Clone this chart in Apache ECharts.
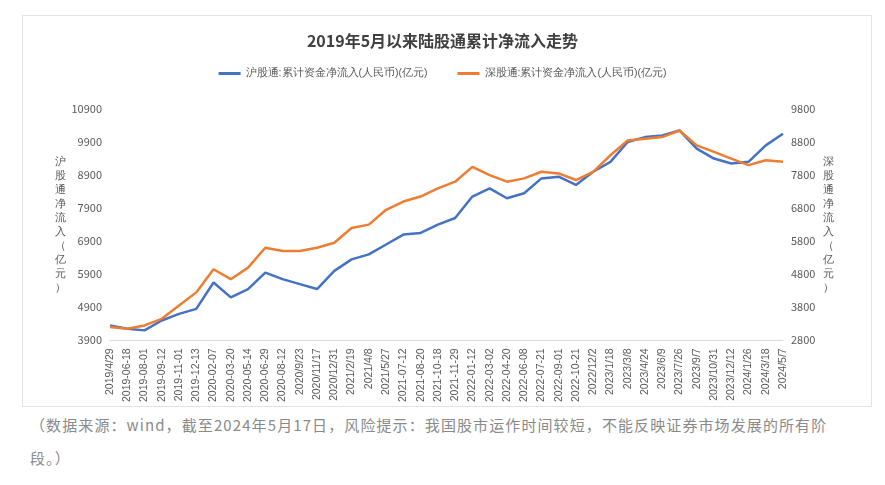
<!DOCTYPE html>
<html><head><meta charset="utf-8">
<script src="https://cdn.jsdelivr.net/npm/echarts@6/dist/echarts.min.js"></script>
<style>
body{margin:0;background:#fff;font-family:"Noto Sans CJK SC",sans-serif;}
#box{position:absolute;left:22px;top:15px;width:848px;height:390px;border:1px solid #e3e3e3;}
#c{position:absolute;left:0;top:0;width:885px;height:405px;}
#note{position:absolute;left:30px;top:408px;width:830px;font-size:15px;letter-spacing:1.1px;line-height:33px;color:#8a8a8a;}
</style></head><body>
<div id="box"></div>
<div id="c"></div>
<div id="note">（数据来源：wind，截至2024年5月17日，风险提示：我国股市运作时间较短，不能反映证券市场发展的所有阶段。）</div>
<script>
const dates=["2019/4/29","2019-06-18","2019-08-01","2019-09-12","2019-11-01","2019-12-13","2020-02-07","2020-03-20","2020-05-14","2020-06-29","2020-08-12","2020/9/23","2020/11/17","2020/12/31","2021/2/19","2021/4/8","2021/5/27","2021-07-12","2021-08-20","2021-10-18","2021-11-29","2022-01-12","2022-03-02","2022-04-20","2022-06-08","2022-07-21","2022-09-01","2022-10-21","2022/12/2","2023/1/18","2023/3/8","2023/4/24","2023/6/9","2023/7/26","2023/9/7","2023/10/31","2023/12/12","2024/1/26","2024/3/18","2024/5/7"];
const huValues=[4350,4250,4200,4500,4700,4850,5650,5200,5450,5950,5750,5600,5450,6000,6350,6500,6800,7100,7150,7400,7600,8250,8500,8200,8350,8800,8850,8600,9000,9300,9900,10050,10100,10250,9700,9400,9250,9300,9800,10150];
const shenValues=[3200,3150,3250,3450,3850,4250,4950,4650,5000,5600,5500,5500,5600,5750,6200,6300,6750,7000,7150,7400,7600,8050,7800,7600,7700,7900,7850,7650,7900,8400,8850,8900,8950,9150,8700,8500,8300,8100,8250,8200];
const leftTicks={min:3900,max:10900,interval:1000};
const rightTicks={min:2800,max:9800,interval:1000};
</script>
<script>
const ch=echarts.init(document.getElementById('c'));
const lab={color:'#595959',fontSize:11,fontFamily:'Noto Sans CJK SC',formatter:v=>String(v)};
ch.setOption({
 animation:false,
 title:{text:'2019年5月以来陆股通累计净流入走势',left:'center',top:28,textStyle:{fontSize:16,fontWeight:'bold',color:'#404040',fontFamily:'Noto Sans CJK SC'}},
 legend:{top:63,itemWidth:22,itemHeight:3,itemGap:30,icon:'rect',textStyle:{fontSize:10.5,color:'#595959'}},
 grid:{left:110,right:102,top:109,bottom:62},
 xAxis:{type:'category',data:dates,boundaryGap:false,axisTick:{show:false},axisLine:{lineStyle:{color:'#d9d9d9'}},
   axisLabel:{rotate:90,interval:0,fontSize:10.5,color:'#595959'}},
 yAxis:[
  Object.assign({type:'value',position:'left',splitLine:{show:false},axisLabel:lab,name:'沪\n股\n通\n净\n流\n入\n（\n亿\n元\n）',nameLocation:'middle',nameGap:42,nameRotate:0,nameTextStyle:{color:'#595959',fontSize:11,lineHeight:14}},leftTicks),
  Object.assign({type:'value',position:'right',splitLine:{show:false},axisLabel:lab,name:'深\n股\n通\n净\n流\n入\n（\n亿\n元\n）',nameLocation:'middle',nameGap:40,nameRotate:0,nameTextStyle:{color:'#595959',fontSize:11,lineHeight:14}},rightTicks)
 ],
 series:[
  {name:'沪股通:累计资金净流入(人民币)(亿元)',type:'line',yAxisIndex:0,data:huValues,showSymbol:false,lineStyle:{width:2.5,color:'#4472C4'},itemStyle:{color:'#4472C4'}},
  {name:'深股通:累计资金净流入(人民币)(亿元)',type:'line',yAxisIndex:1,data:shenValues,showSymbol:false,lineStyle:{width:2.5,color:'#ED7D31'},itemStyle:{color:'#ED7D31'}}
 ]
});
</script></body></html>
